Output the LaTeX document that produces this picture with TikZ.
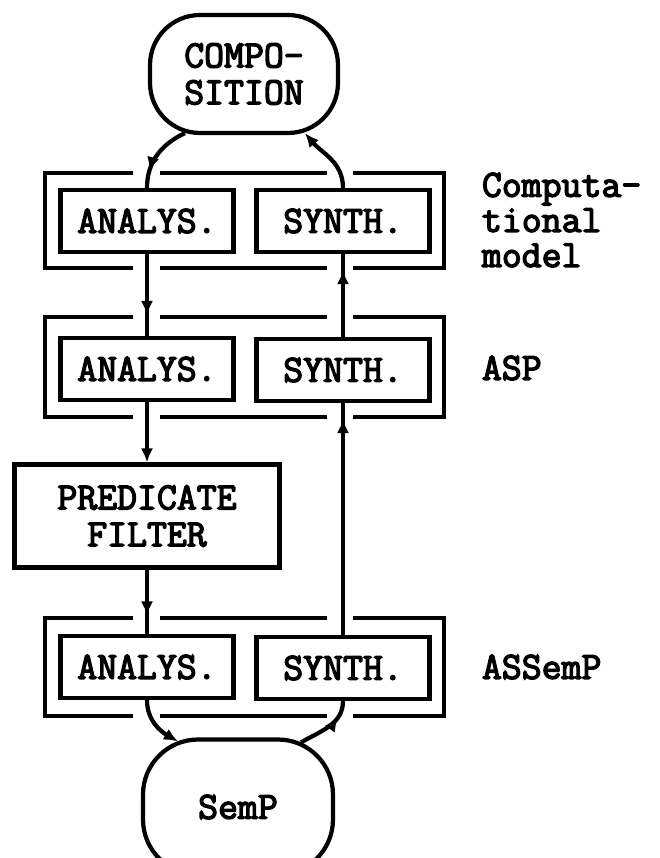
\documentclass[tikz,border=0pt]{standalone}
\usepackage{fontspec}
\setmonofont{Latin Modern Mono}[BoldFont={Latin Modern Mono}, BoldFeatures={FakeBold=3.5}]
\usetikzlibrary{positioning,arrows.meta,decorations.markings,calc}

\begin{document}
\begin{tikzpicture}[
  x=0.02cm, y=-0.02cm,
  font=\ttfamily\bfseries\fontsize{22}{24}\selectfont,
  line width=2.4pt,
  box/.style={draw, minimum width=3.46cm, minimum height=1.24cm, inner sep=0pt},
  blob/.style={draw, rounded corners=1cm, minimum width=3.76cm, minimum height=2.36cm, align=center, inner sep=0pt},
  arrow/.style={-{Latex[length=8pt,width=7pt]}},
  tipat/.style={postaction={decorate}, decoration={markings, mark=at position #1 with {\arrow{Latex[length=8pt,width=7pt]}}}},
  tag/.style={anchor=west, align=left, font=\ttfamily\bfseries\fontsize{22}{20}\selectfont}
]
\useasboundingbox (0,0) rectangle (659,858);

\node[blob, font=\ttfamily\bfseries\fontsize{22}{21}\selectfont] (comp) at (244,74) {COMPO-\\SITION};

\node[box] (a1) at (147,221) {ANALYS.};
\node[box] (s1) at (343,221) {SYNTH.};
\node[box] (a2) at (147,369) {ANALYS.};
\node[box] (s2) at (343,370) {SYNTH.};
\node[box, minimum width=5.3cm, minimum height=2.06cm, align=center,
  font=\ttfamily\bfseries\fontsize{22}{21}\selectfont] (pred) at (147,516) {PREDICATE\\FILTER};
\node[box] (a3) at (147,667) {ANALYS.};
\node[box] (s3) at (343,668) {SYNTH.};

\node[blob, rounded corners=1.1cm, minimum width=3.8cm, minimum height=2.7cm] (semp) at (238,807) {SemP};

\node[tag] (cm) at (474,220) {Computa-\\tional\\model};
\node[tag] (asp) at (474,368) {ASP};
\node[tag] (assemp) at (474,667) {ASSemP};

\foreach \ya/\yb in {173/268, 317/417, 618/716} {
  \draw (133,\ya) -- (45,\ya) -- (45,\yb) -- (133,\yb);
  \draw (160,\ya) -- (327,\ya) (160,\yb) -- (327,\yb);
  \draw (353,\ya) -- (444,\ya) -- (444,\yb) -- (353,\yb);
}

\draw[tipat=-0.34cm] ($(comp.south)+(-59,-2)$) to[out=205,in=90] (a1.north);
\draw[tipat=-0.42cm] (a1.south) -- (a2.north);
\draw[arrow] (a2.south) -- (pred.north);
\draw[tipat=-0.37cm] (pred.south) -- (a3.north);
\draw[arrow] (a3.south) to[out=-90,in=150] ($(semp.north)+(-60,4)$);

\draw[tipat=-0.35cm] ($(semp.north)+(63,5)$) to[out=30,in=-90] (s3.south);
\draw[tipat=-0.32cm] (s3.north) -- (s2.south);
\draw[tipat=-0.32cm] (s2.north) -- (s1.south);
\draw[arrow] (s1.north) to[out=90,in=-50] ($(comp.south)+(61,-2)$);
\end{tikzpicture}
\end{document}
